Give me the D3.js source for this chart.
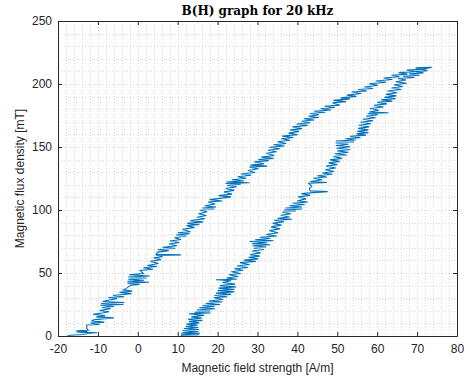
<!DOCTYPE html>
<html>
<head>
<meta charset="utf-8">
<script src="https://cdn.jsdelivr.net/npm/d3@7"></script>
<style>
  body { margin: 0; background: #fff; }
  .tick text { font-family: "Liberation Sans", Arial, sans-serif; font-size: 12px; fill: #262626; }
</style>
</head>
<body>
<div id="chart"></div>
<script>
// falling branch of the loop (left curve), H in A/m, B in mT
var upperH = [-18.5,-17.0,-13.5,-12.6,-10.2,-13.4,-15.4,-12.6,-15.4,-12.4,
  -12.8,-12.8,-9.6,-11.8,-8.4,-11.6,-10.8,-6.0,-10.4,-8.2,
  -11.2,-8.6,-7.2,-9.6,-6.8,-9.0,-6.0,-9.4,-3.6,-9.2,
  -3.4,-8.8,-7.2,-5.2,-7.4,-3.4,-6.2,-1.6,-4.6,-1.4,
  -3.6,-2.6,-1.8,0.4,-2.6,2.8,-2.6,1.6,-2.4,2.2,
  -2.4,3.0,-2.2,1.4,0.6,3.8,1.4,4.8,2.4,5.2,
  3.2,5.8,4.0,6.2,4.6,10.8,4.6,5.0,7.8,5.0,
  9.4,6.2,9.8,7.8,10.4,8.0,10.8,9.2,12.2,9.6,
  13.0,10.0,13.2,11.2,14.2,12.2,15.4,12.4,16.4,13.2,
  16.8,14.8,17.2,15.2,17.4,15.6,19.2,16.2,19.6,16.8,
  19.4,17.6,21.2,18.0,21.0,23.4,20.2,23.6,21.6,24.2,
  22.0,24.8,22.4,25.8,22.0,28.0,22.2,26.6,23.6,27.2,
  25.0,28.4,25.8,29.4,27.6,30.2,28.0,32.4,28.2,31.6,
  29.2,32.8,30.2,34.0,31.0,34.2,32.2,34.8,32.6,35.6,
  33.0,36.8,34.0,37.2,35.0,38.2,36.0,39.0,36.2,40.0,
  37.8,40.4,38.2,41.2,38.8,42.6,39.8,43.2,41.0,44.2,
  41.6,45.4,42.8,45.4,43.2,47.0,44.2,48.4,45.8,49.4,
  46.8,50.6,48.8,52.2,49.0,53.2,50.8,54.8,52.4,56.0,
  53.6,57.4,55.2,59.0,56.8,60.2,58.0,62.2,59.6,63.8,
  61.6,65.6,63.6,67.6,65.4,69.4,67.4,71.4,69.6,73.6];
var upperB = [-1,0.6,1.2,2.0,2.6,2.9,3.3,3.6,4.2,4.6,6.0,8.7,9.2,10.2,11.0,12.0,13.0,14.4,15.2,16.2,
  17.2,18.4,19.2,20.2,21.6,22.6,23.4,24.4,25.0,25.8,26.6,27.4,28.6,29.6,30.6,31.2,32.2,33.6,34.6,35.6,
  36.6,38.4,40.4,41.0,42.0,42.6,43.4,44.2,45.0,46.0,46.8,47.6,48.6,49.6,52.0,53.0,54.2,55.2,56.0,57.6,
  59.2,60.6,62.0,63.0,64.0,64.4,64.8,66.6,67.6,68.4,69.6,70.4,71.6,73.0,74.2,75.4,76.6,78.0,79.4,80.2,
  81.2,82.0,82.8,84.6,86.2,87.6,88.6,89.4,90.6,91.6,93.0,94.2,95.6,97.0,98.6,99.8,100.8,101.6,102.4,103.4,
  104.8,106.4,107.2,108.2,109.4,110.4,111.4,112.6,114.4,115.6,117.0,118.4,119.4,120.4,121.0,121.6,122.2,123.0,124.0,125.2,
  126.4,127.6,128.6,129.8,131.4,132.8,134.0,134.8,135.6,136.6,138.2,139.2,140.0,141.0,142.0,143.2,145.0,146.2,147.4,148.6,
  149.8,150.8,151.8,152.8,154.2,155.4,156.6,157.6,158.6,159.8,161.0,162.4,163.6,164.6,166.0,167.2,168.2,169.2,170.4,171.4,
  172.4,173.4,174.4,175.6,176.6,177.6,178.4,179.4,180.4,181.4,182.4,183.2,185.0,186.0,187.0,188.2,189.0,190.2,191.2,192.4,
  193.6,194.4,195.6,196.4,197.6,199.0,200.2,201.4,202.4,203.6,204.8,205.8,207.0,207.8,209.0,209.8,211.0,211.6,212.8,213.2];

// rising branch of the loop (right curve)
var lowerH = [10.8,11.0,15.4,10.8,15.6,11.2,15.2,11.2,15.4,11.6,
  15.2,12.0,15.0,12.2,15.4,12.8,16.2,12.6,16.0,13.4,
  16.6,12.8,18.2,14.2,18.2,14.8,19.4,15.4,19.2,16.2,
  20.6,17.0,21.2,17.8,21.4,19.0,22.4,19.2,23.4,19.6,
  24.2,20.0,24.2,20.2,24.6,20.6,24.4,21.2,23.4,19.6,
  24.8,22.2,25.2,22.8,25.8,23.4,26.4,24.2,27.6,24.8,
  28.0,25.6,29.6,26.6,30.2,27.8,30.6,28.2,30.8,28.6,
  31.6,29.0,32.2,28.8,33.2,28.6,32.4,28.0,34.0,29.4,
  33.2,30.6,34.8,32.2,35.2,33.0,35.6,33.4,36.0,33.8,
  36.6,34.2,38.6,35.0,38.0,35.8,38.4,36.2,39.6,36.6,
  41.2,37.0,41.2,38.0,41.8,38.8,42.6,40.0,42.2,40.2,
  43.2,41.0,44.0,47.6,43.2,43.0,43.6,42.8,47.4,43.2,
  46.2,44.0,47.4,45.0,48.8,46.2,49.2,47.0,49.6,47.2,
  50.0,47.8,50.6,48.2,51.2,49.0,52.4,49.4,52.8,50.0,
  53.2,49.8,53.2,49.6,52.8,49.6,54.2,49.6,54.6,52.0,
  55.8,53.2,57.2,54.8,57.8,55.0,57.8,55.2,58.0,55.4,
  58.4,55.8,59.0,56.4,59.6,57.2,60.2,57.6,62.8,58.0,
  60.4,58.2,61.6,59.2,62.4,60.0,63.8,61.0,64.6,61.8,
  64.8,62.2,65.0,62.6,66.0,63.6,66.4,64.2,67.4,64.6,
  67.2,65.2,69.4,66.4,70.6,68.0,71.6,69.4,72.6,71.0,
  73.6];
var lowerB = [-1,0.6,1.0,1.6,2.2,2.8,3.6,4.4,5.2,6.0,6.8,7.6,8.6,9.4,10.4,11.4,12.4,13.2,14.2,15.2,
  16.4,17.6,18.2,18.8,19.8,20.6,21.6,22.4,23.4,24.2,25.0,25.8,27.0,27.8,29.0,30.4,31.2,32.2,33.0,34.0,
  35.0,36.0,37.0,38.0,39.0,40.0,41.2,42.4,43.8,44.6,45.0,46.0,47.2,48.6,49.6,51.0,52.2,53.4,54.4,55.6,
  56.8,58.2,59.2,60.2,61.2,62.4,63.4,64.6,66.0,67.4,68.6,69.6,70.6,71.6,72.4,73.2,74.0,75.0,75.6,76.4,
  77.4,78.4,79.4,80.6,82.0,83.6,85.0,86.6,88.0,89.4,90.8,91.8,92.6,93.4,94.4,95.8,97.0,98.2,99.2,100.0,
  100.8,101.6,102.4,103.4,104.4,105.4,106.4,107.4,108.8,110.4,111.6,113.0,113.8,114.6,115.2,117.0,119.0,121.2,121.8,122.6,
  124.0,125.2,126.2,127.2,128.4,129.4,130.6,132.0,133.4,134.8,136.0,137.4,138.6,139.8,141.0,142.4,143.6,144.6,145.8,146.8,
  148.0,149.0,150.2,151.2,152.2,153.2,154.0,154.8,155.6,156.6,157.4,158.4,159.4,160.4,161.4,162.4,163.6,164.8,166.0,167.2,
  168.4,169.6,170.8,172.0,173.2,174.4,175.6,176.6,177.2,177.8,179.2,180.6,181.8,183.0,184.2,185.4,186.4,187.4,188.4,189.4,
  190.6,191.8,193.0,194.4,195.6,196.8,198.0,199.4,200.6,201.8,203.2,204.4,205.2,206.2,207.0,208.0,208.8,209.8,210.6,211.6,213.2];

var xTicks = [-20, -10, 0, 10, 20, 30, 40, 50, 60, 70, 80];
var yTicks = [0, 50, 100, 150, 200, 250];
var xMinor = d3.range(-20, 81, 2);
var yMinor = d3.range(0, 251, 10);

var margin = { top: 21, right: 13, bottom: 42, left: 58 },
  totalW = 470, totalH = 378,
  width = totalW - margin.left - margin.right,
  height = totalH - margin.top - margin.bottom;

var xScale = d3.scaleLinear().domain([-20, 80]).range([0, width]);
var yScale = d3.scaleLinear().domain([0, 250]).range([height, 0]);

var svg = d3.select("#chart").append("svg")
  .attr("width", totalW)
  .attr("height", totalH);

var g = svg.append("g")
  .attr("transform", "translate(" + margin.left + "," + margin.top + ")");

g.append("defs").append("clipPath").attr("id", "clip")
  .append("rect").attr("width", width).attr("height", height);

// dotted grid, every minor step
g.selectAll(".vgrid").data(xMinor).enter().append("line")
  .attr("x1", function (d) { return Math.round(xScale(d)) + 0.5; })
  .attr("x2", function (d) { return Math.round(xScale(d)) + 0.5; })
  .attr("y1", 0).attr("y2", height)
  .style("stroke", "#d8d8d8").style("stroke-dasharray", "1,2");

g.selectAll(".hgrid").data(yMinor).enter().append("line")
  .attr("y1", function (d) { return Math.round(yScale(d)) + 0.5; })
  .attr("y2", function (d) { return Math.round(yScale(d)) + 0.5; })
  .attr("x1", 0).attr("x2", width)
  .style("stroke", "#d8d8d8").style("stroke-dasharray", "1,2");

var line = d3.line()
  .x(function (d) { return xScale(d[0]); })
  .y(function (d) { return yScale(d[1]); });

var branches = [d3.zip(upperH, upperB), d3.zip(lowerH, lowerB)];

g.append("g").attr("clip-path", "url(#clip)")
  .selectAll("path").data(branches).enter().append("path")
  .attr("d", line)
  .style("fill", "none")
  .style("stroke", "#0072BD")
  .style("stroke-width", 1.1);

// axes, ticks pointing inward like matlab
var xAxis = g.append("g")
  .attr("transform", "translate(0," + height + ")")
  .call(d3.axisBottom(xScale).tickValues(xTicks).tickSizeInner(-4).tickSizeOuter(0).tickPadding(8));
var xTop = g.append("g")
  .call(d3.axisTop(xScale).tickValues(xTicks).tickSizeInner(-4).tickSizeOuter(0).tickFormat(""));
var yAxis = g.append("g")
  .call(d3.axisLeft(yScale).tickValues(yTicks).tickSizeInner(-4).tickSizeOuter(0).tickPadding(6));
var yRight = g.append("g")
  .attr("transform", "translate(" + width + ",0)")
  .call(d3.axisRight(yScale).tickValues(yTicks).tickSizeInner(-4).tickSizeOuter(0).tickFormat(""));

[xAxis, xTop, yAxis, yRight].forEach(function (a) {
  a.selectAll("path, line").style("stroke", "#262626");
});
xAxis.selectAll("text").text(function (d) { return String(d); });

svg.append("text")
  .attr("x", margin.left + width / 2)
  .attr("y", margin.top + height + 36)
  .attr("text-anchor", "middle")
  .style("font-family", "Liberation Sans, Arial, sans-serif")
  .style("font-size", "12px")
  .style("fill", "#262626")
  .text("Magnetic field strength [A/m]");

svg.append("text")
  .attr("transform", "translate(24," + (margin.top + height / 2) + ") rotate(-90)")
  .attr("text-anchor", "middle")
  .style("font-family", "Liberation Sans, Arial, sans-serif")
  .style("font-size", "12px")
  .style("fill", "#262626")
  .text("Magnetic flux density [mT]");

svg.append("text")
  .attr("x", margin.left + width / 2)
  .attr("y", 15)
  .attr("text-anchor", "middle")
  .style("font-family", "DejaVu Serif, serif")
  .style("font-weight", "bold")
  .style("font-size", "12px")
  .style("fill", "#000")
  .text("B(H) graph for 20 kHz");
</script>
</body>
</html>
